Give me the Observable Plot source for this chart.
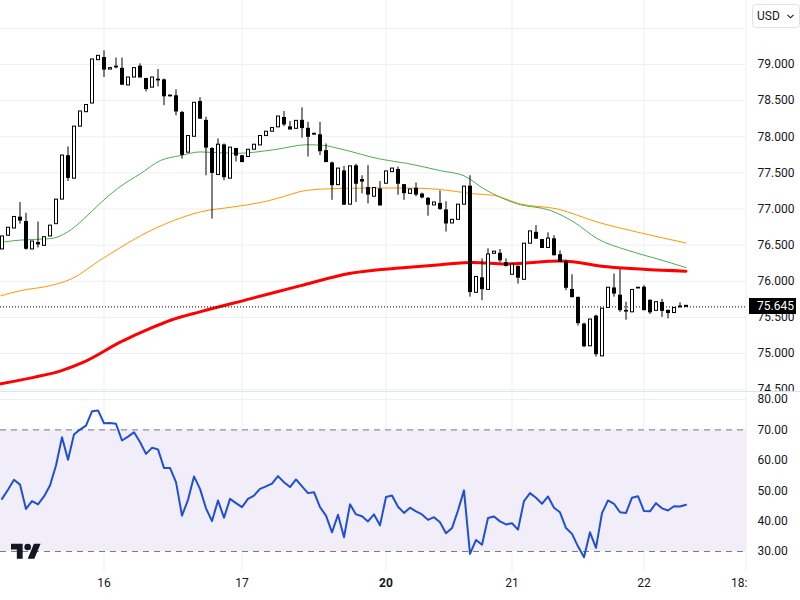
<!DOCTYPE html>
<html>
<head>
<meta charset="utf-8">
<script src="https://cdn.jsdelivr.net/npm/d3@7"></script>
<script src="https://cdn.jsdelivr.net/npm/@observablehq/plot@0.6"></script>
<style>
  body { margin: 0; background: #fff; }
  #wrap { position: relative; width: 800px; height: 600px; overflow: hidden; background: #fff; font-family: Roboto, sans-serif; color: #131722; }
  #price, #rsi { position: absolute; left: 0; }
  #price { top: 0; width: 800px; height: 391px; overflow: hidden; }
  #rsi { top: 392px; }
  #sep { position: absolute; left: 0; top: 391px; width: 800px; height: 1px; background: #e0e3eb; }
  #usd { position: absolute; left: 752px; top: 4px; width: 42px; height: 22px; border: 1px solid #e0e3eb; border-radius: 4px; font-size: 12px; line-height: 22px; padding-left: 4px; box-sizing: content-box; background: #fff; }
  #usd svg { position: absolute; right: 5px; top: 9px; }
  #last { position: absolute; left: 749px; width: 47px; height: 16px; background: #000; color: #fff; font-size: 12px; line-height: 16px; padding-left: 8px; box-sizing: border-box; }
  #clip { position: absolute; left: 747px; top: 574px; width: 53px; height: 26px; background: #fff; }
  #logo { position: absolute; left: 11px; top: 540px; }
</style>
</head>
<body>
<div id="wrap">
  <div id="price"></div>
  <div id="sep"></div>
  <div id="rsi"></div>
  <div id="clip"></div>
  <div id="usd">USD<svg width="7" height="5" viewBox="0 0 7 5"><polyline points="0.5,0.8 3.5,3.8 6.5,0.8" fill="none" stroke="#131722" stroke-width="1.1"/></svg></div>
  <div id="last"></div>
  <svg id="logo" width="30" height="24" viewBox="0 0 36 28"><path d="M14 22H7V11H0V4h14v18zM28 22h-8l7.5-18h8L28 22z" fill="#131722"/><circle cx="20" cy="8" r="4" fill="#131722"/></svg>
</div>
<script>
// ---- data ----
const open = [76.44,76.63,76.73,76.88,76.82,76.44,76.53,76.49,76.62,76.79,
  77.13,77.73,77.42,78.14,78.34,78.46,79.06,79.09,78.93,78.96,
  78.94,78.71,78.82,78.97,78.80,78.68,78.78,78.78,78.56,78.56,
  78.33,77.78,78.00,78.48,78.22,77.83,77.47,77.88,77.42,77.83,
  77.73,77.72,77.82,77.88,78.01,78.07,78.13,78.26,78.13,78.11,
  78.22,78.11,78.03,78.02,77.80,77.63,77.33,77.52,77.06,77.59,
  77.40,77.29,77.17,77.27,77.35,77.51,77.54,77.33,77.21,77.28,
  77.20,77.14,77.05,77.07,76.98,76.80,76.85,77.06,77.31,75.84,
  76.04,75.88,76.38,76.38,76.25,76.09,76.20,76.02,76.52,76.67,
  76.57,76.46,76.58,76.36,76.26,75.88,75.77,75.40,75.10,75.51,
  74.96,75.63,75.90,75.80,75.58,75.57,75.91,75.91,75.73,75.59,
  75.70,75.59,75.56,75.64,75.66];
const close = [76.62,76.74,76.89,76.84,76.45,76.55,76.51,76.61,76.77,77.13,
  77.74,77.43,78.14,78.35,78.44,79.07,79.12,78.93,78.95,78.97,
  78.72,78.82,78.95,78.82,78.66,78.82,78.79,78.56,78.57,78.35,
  77.75,78.01,78.47,78.25,77.85,77.50,77.89,77.44,77.85,77.74,
  77.65,77.82,77.89,78.01,78.07,78.12,78.28,78.17,78.10,78.22,
  78.12,78.00,78.04,77.80,77.65,77.33,77.56,77.06,77.59,77.35,
  77.38,77.20,77.29,77.05,77.52,77.56,77.35,77.22,77.27,77.20,
  77.16,77.06,77.09,77.00,76.80,76.85,77.06,77.31,75.85,76.06,
  75.89,76.37,76.41,76.29,76.21,76.23,76.05,76.52,76.69,76.59,
  76.46,76.59,76.36,76.27,75.91,75.78,75.42,75.10,75.47,74.99,
  75.62,75.91,75.83,75.60,75.59,75.88,75.90,75.60,75.57,75.71,
  75.59,75.56,75.63,75.65,75.645];
const high = [76.62,76.74,76.89,77.09,76.94,76.55,76.82,76.61,76.77,77.13,
  77.74,77.86,78.14,78.35,78.44,79.07,79.12,79.19,78.95,79.09,
  79.09,78.82,78.95,79.01,78.80,78.82,78.93,78.80,78.57,78.65,
  78.35,78.01,78.47,78.54,78.27,77.85,77.97,77.90,77.85,77.84,
  77.74,77.82,77.89,78.01,78.07,78.12,78.28,78.35,78.21,78.22,
  78.40,78.20,78.05,78.20,77.90,77.65,77.56,77.59,77.59,77.62,
  77.46,77.60,77.29,77.38,77.52,77.56,77.58,77.34,77.27,77.36,
  77.22,77.16,77.09,77.25,77.10,76.85,77.06,77.31,77.46,76.06,
  76.31,76.45,76.41,76.44,76.31,76.23,76.21,76.52,76.69,76.77,
  76.57,76.67,76.63,76.42,76.29,76.09,75.78,75.42,75.47,75.53,
  75.62,75.91,76.10,76.16,75.71,75.88,75.91,75.94,75.74,75.71,
  75.75,75.60,75.63,75.70,75.66];
const low = [76.44,76.63,76.73,76.79,76.43,76.44,76.46,76.49,76.62,76.79,
  77.13,77.38,77.42,78.14,78.34,78.46,79.06,78.82,78.93,78.94,
  78.72,78.71,78.82,78.82,78.62,78.68,78.69,78.43,78.55,78.29,
  77.69,77.78,78.00,78.25,77.46,76.86,77.47,77.39,77.42,77.65,
  77.64,77.72,77.82,77.88,78.01,78.07,78.13,78.14,78.10,78.11,
  77.98,77.72,78.02,77.74,77.64,77.12,77.33,77.05,77.06,77.09,
  77.21,77.07,77.17,77.04,77.35,77.51,77.19,77.12,77.21,77.17,
  77.14,76.90,77.05,76.98,76.68,76.80,76.85,77.06,75.78,75.84,
  75.73,75.88,76.38,76.26,76.20,76.09,75.96,76.02,76.52,76.58,
  76.46,76.46,76.35,76.26,75.87,75.77,75.38,75.08,75.10,74.95,
  74.96,75.63,75.78,75.57,75.46,75.57,75.90,75.59,75.54,75.59,
  75.50,75.48,75.56,75.63,75.645];

const rsi = [47.3,50.3,53.6,52.0,44.0,46.6,45.5,48.1,51.7,58.3,
  67.6,60.2,68.5,70.1,71.4,76.1,76.4,72.2,72.3,72.0,
  66.5,67.8,69.2,66.0,62.1,64.1,63.6,57.5,57.5,52.8,
  41.8,47.0,54.7,50.6,44.2,40.0,46.8,41.1,47.3,45.9,
  44.6,47.3,48.4,50.6,51.4,52.3,54.8,52.8,51.2,53.7,
  51.4,49.2,49.5,44.6,41.8,36.3,42.1,34.7,45.5,42.2,
  41.6,39.9,42.2,38.6,47.9,48.4,44.7,42.7,44.4,43.2,
  42.2,40.4,41.3,39.6,36.0,37.7,43.5,50.1,29.2,33.8,
  32.2,41.0,41.5,39.9,38.9,39.3,37.2,46.6,49.2,47.7,
  45.7,48.1,44.4,42.9,37.7,35.8,31.7,28.1,36.3,31.2,
  42.6,46.8,45.7,42.9,42.7,47.7,48.2,43.3,43.2,45.9,
  44.2,43.5,44.9,44.8,45.4];

// moving-average lines at sample bars
const greenIdx = [-0.2,3.1,8.1,10.9,13.6,16.5,19.2,23.1,26.4,29.8,33.1,39,45.3,50.9,53.6,56.5,63.1,67.6,73.1,77,80.3,85.9,91.4,95.3,99.2,104.2,109.2,114];
const greenVal = [76.54,76.57,76.59,76.68,76.86,77.09,77.28,77.49,77.67,77.74,77.79,77.77,77.82,77.89,77.88,77.83,77.69,77.63,77.53,77.46,77.28,77.07,76.98,76.82,76.59,76.43,76.31,76.19];
const orangeIdx = [-0.2,3.1,8.1,11.5,16.5,19.8,23.1,28.6,33.1,38.6,43.1,45.6,50.9,54.8,62,67.6,73.1,78.6,81.9,86.4,92.6,99.2,106.4,114];
const orangeVal = [75.80,75.87,75.94,76.03,76.30,76.47,76.63,76.84,76.96,77.03,77.09,77.14,77.26,77.28,77.29,77.29,77.27,77.21,77.19,77.07,77.00,76.82,76.67,76.53];
const redIdx = [-0.2,5.3,9.8,13.6,19.8,24.8,28.1,33.1,41.5,49.8,58.1,67.3,73.1,78.6,84,93.1,100.9,114];
const redVal = [74.58,74.67,74.76,74.88,75.16,75.35,75.46,75.58,75.76,75.94,76.11,76.19,76.23,76.26,76.24,76.28,76.20,76.14];

const lastPrice = 75.645;
const dayTicks = [17, 40, 64, 85, 107, 124];
const dayLabels = ["16", "17", "20", "21", "22", "18:00"];
const boldDay = "20";
const priceTicks = [74.5, 75, 75.5, 76, 76.5, 77, 77.5, 78, 78.5, 79];
const priceGrid = [74.5, 75, 75.5, 76, 76.5, 77, 77.5, 78, 78.5, 79, 79.5];
const rsiTicks = [30, 40, 50, 60, 70, 80];
const rsiGrid = [40, 50, 60, 80];
const rsiBands = [30, 70];

// ---- build ----
const candles = open.map((o, i) => ({i, o, c: close[i], h: high[i], l: low[i]}));
const up = candles.filter(d => d.c >= d.o);
const down = candles.filter(d => d.c < d.o);
const line = (xs, ys) => xs.map((x, k) => ({x, y: ys[k]}));

const xDomain = [-0.25, 124.0833];
const gridColor = "#eceff3";
const style = {fontFamily: "Roboto, sans-serif", fontSize: "12px", color: "#131722", background: "transparent", overflow: "visible"};

const price = Plot.plot({
  width: 800, height: 391,
  marginLeft: 0, marginRight: 54, marginTop: 0, marginBottom: 0,
  x: {domain: xDomain, axis: null},
  y: {domain: [74.474, 79.886], axis: null},
  style,
  marks: [
    Plot.ruleY(priceGrid, {stroke: gridColor}),
    Plot.ruleX(dayTicks, {stroke: gridColor}),
    Plot.line(line(redIdx, redVal), {x: "x", y: "y", stroke: "#ff0000", strokeWidth: 3, curve: "monotone-x"}),
    Plot.line(line(orangeIdx, orangeVal), {x: "x", y: "y", stroke: "#ff9800", strokeWidth: 1, curve: "monotone-x"}),
    Plot.line(line(greenIdx, greenVal), {x: "x", y: "y", stroke: "#4caf50", strokeWidth: 1, curve: "monotone-x"}),
    Plot.ruleX(candles, {x: "i", y1: "l", y2: "h", stroke: "#000", strokeWidth: 1}),
    Plot.rect(up, {x1: d => d.i - 0.25, x2: d => d.i + 0.25, y1: "o", y2: "c", fill: "#fff", stroke: "#000", strokeWidth: 1, insetLeft: 0.5, insetRight: -0.5}),
    Plot.rect(down, {x1: d => d.i - 0.25, x2: d => d.i + 0.25, y1: "o", y2: "c", fill: "#000", stroke: "#000", strokeWidth: 1, insetLeft: 0.5, insetRight: -0.5}),
    Plot.ruleY([lastPrice], {stroke: "#000", strokeDasharray: "1,2"}),
    Plot.text(priceTicks, {y: d => d, frameAnchor: "right", dx: 11, textAnchor: "start", text: d => d3.format(".3f")(d), fill: "#131722"})
  ]
});
document.getElementById("price").appendChild(price);

const py = price.scale("y").apply(lastPrice);
const last = document.getElementById("last");
last.style.top = (py - 8) + "px";
last.textContent = d3.format(".3f")(lastPrice);

const rsiPlot = Plot.plot({
  width: 800, height: 208,
  marginLeft: 0, marginRight: 54, marginTop: 0, marginBottom: 28,
  x: {domain: xDomain, axis: null},
  y: {domain: [23.09, 82.30], axis: null},
  style: {...style, background: "#fff"},
  marks: [
    Plot.rect([rsiBands], {x1: xDomain[0], x2: xDomain[1], y1: d => d[0], y2: d => d[1], fill: "#f2eef9"}),
    Plot.ruleY(rsiGrid, {stroke: gridColor}),
    Plot.ruleX(dayTicks, {stroke: gridColor}),
    Plot.ruleY(rsiBands, {stroke: "#787b86", strokeDasharray: "6,5"}),
    Plot.line(rsi, {x: (d, i) => i, y: d => d, stroke: "#1f4fd3", strokeWidth: 2}),
    Plot.text(rsiTicks, {y: d => d, frameAnchor: "right", dx: 11, textAnchor: "start", text: d => d3.format(".2f")(d), fill: "#131722"}),
    Plot.text(dayTicks.filter((d, k) => dayLabels[k] !== boldDay), {x: d => d, frameAnchor: "bottom", dy: 14, text: d => dayLabels[dayTicks.indexOf(d)], fill: "#131722"}),
    Plot.text(dayTicks.filter((d, k) => dayLabels[k] === boldDay), {x: d => d, frameAnchor: "bottom", dy: 14, text: d => dayLabels[dayTicks.indexOf(d)], fill: "#131722", fontWeight: "bold"})
  ]
});
document.getElementById("rsi").appendChild(rsiPlot);
</script>
</body>
</html>
